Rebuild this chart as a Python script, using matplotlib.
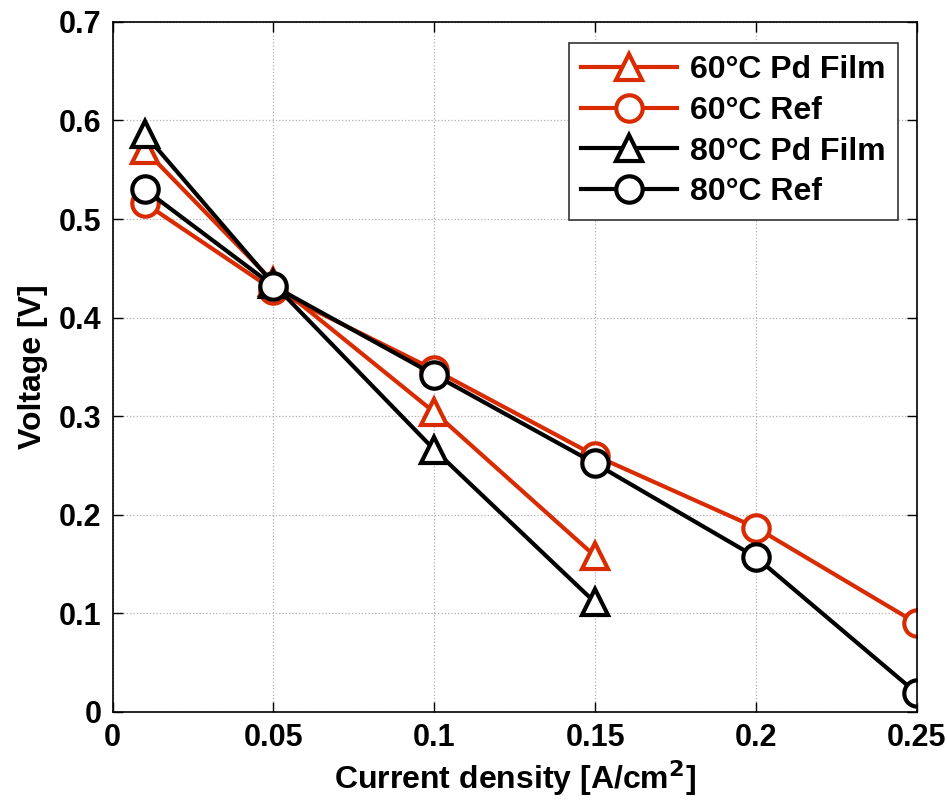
import matplotlib
matplotlib.use('Agg')
import matplotlib.pyplot as plt

plt.rcParams['font.family'] = ['Liberation Sans', 'DejaVu Sans']
plt.rcParams['font.weight'] = 'bold'

# 数据
x_film = [0.01, 0.05, 0.1, 0.15]
x_ref = [0.01, 0.05, 0.1, 0.15, 0.2, 0.25]
v60_film = [0.570, 0.436, 0.304, 0.158]
v60_ref = [0.516, 0.428, 0.347, 0.260, 0.187, 0.090]
v80_film = [0.586, 0.434, 0.266, 0.111]
v80_ref = [0.530, 0.432, 0.342, 0.252, 0.157, 0.019]

red = '#D92B00'
xticks = [0, 0.05, 0.1, 0.15, 0.2, 0.25]
xticklabels = ['0', '0.05', '0.1', '0.15', '0.2', '0.25']
yticks = [0, 0.1, 0.2, 0.3, 0.4, 0.5, 0.6, 0.7]
yticklabels = ['0', '0.1', '0.2', '0.3', '0.4', '0.5', '0.6', '0.7']

fig = plt.figure(figsize=(9.47, 8.09), dpi=100)
ax = fig.add_axes([0.119, 0.12, 0.849, 0.853])

style = dict(linewidth=3, markersize=19, markeredgewidth=3, markerfacecolor='white')
ax.plot(x_film, v60_film, '-^', color=red, label='60°C Pd Film', **style)
ax.plot(x_ref, v60_ref, '-o', color=red, label='60°C Ref', **style)
ax.plot(x_film, v80_film, '-^', color='black', label='80°C Pd Film', **style)
ax.plot(x_ref, v80_ref, '-o', color='black', label='80°C Ref', **style)

ax.set_xlim(0, 0.25)
ax.set_ylim(0, 0.7)
ax.set_xticks(xticks)
ax.set_xticklabels(xticklabels)
ax.set_yticks(yticks)
ax.set_yticklabels(yticklabels)
ax.tick_params(labelsize=22, direction='in', length=7, width=1, pad=8,
               top=True, right=True)
ax.grid(True, linestyle=':', color='#b0b0b0', linewidth=0.9)
ax.set_axisbelow(True)
for s in ax.spines.values():
    s.set_linewidth(1.2)

ax.set_xlabel('Current density [A/cm$^\\mathbf{2}$]', fontsize=23, fontweight='bold', labelpad=4)
ax.set_ylabel('Voltage [V]', fontsize=23, fontweight='bold', labelpad=8)

leg = ax.legend(loc='upper right', fontsize=23, fancybox=False, framealpha=1,
                edgecolor='#333333', handlelength=3.0, borderpad=0.4,
                labelspacing=0.33, handletextpad=0.4, bbox_to_anchor=(0.997, 0.993))
leg.get_frame().set_linewidth(1.2)

plt.savefig('out.png', dpi=100)
